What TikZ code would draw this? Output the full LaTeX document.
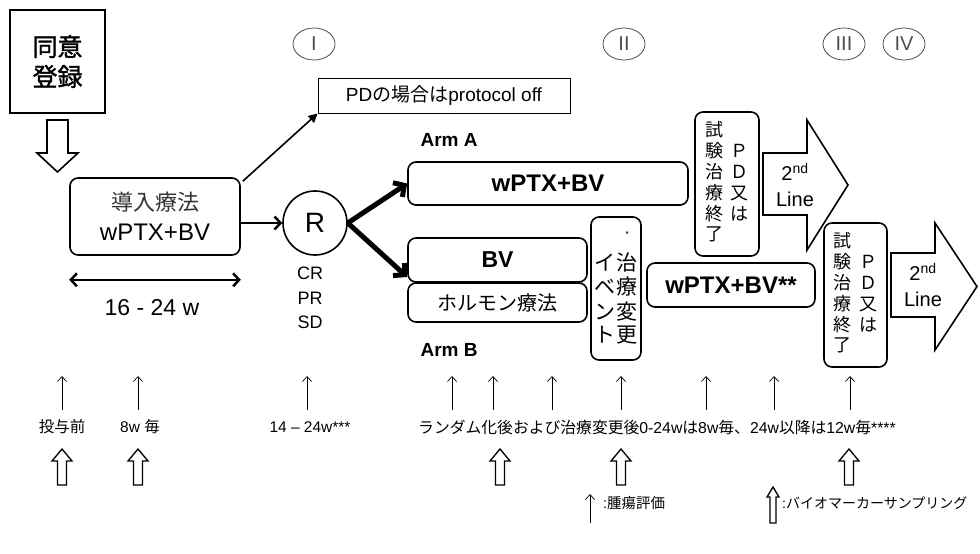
\documentclass[tikz,border=0pt]{standalone}
\usepackage{fontspec}
\setmainfont{Liberation Sans}
\newfontfamily\jp{Noto Sans CJK JP}
\newfontfamily\jpb[FakeBold=1.5]{Noto Sans CJK JP}
\usetikzlibrary{arrows.meta,shapes.geometric}

\begin{document}
\begin{tikzpicture}[x=1pt, y=-1pt,
  rbox/.style={draw, line width=1.6pt, rounded corners=8pt, inner sep=0pt},
  oval/.style={draw, black!70, line width=0.8pt, ellipse, minimum width=42pt, minimum height=32pt, inner sep=0pt, font=\fontsize{20}{20}\selectfont},
  eval/.style={-{Straight Barb[length=5pt,width=9pt]}, line width=0.7pt},
  lbl/.style={inner sep=0pt, font=\fontsize{15.5}{15.5}\selectfont},
  vtext/.style={inner sep=0pt, font=\jp\fontsize{18}{19.5}\selectfont}]
\useasboundingbox (0,0) rectangle (980,554);

% registration and induction
\node[draw, line width=2.8pt, minimum width=95pt, minimum height=103pt, align=center, font=\jpb\fontsize{25}{30}\selectfont] (entry) at (57.5,61.5) {同意\\登録};
\draw[line width=1.6pt] (47,120) -- (68,120) -- (68,153) -- (78,153) -- (57.5,172) -- (37,153) -- (47,153) -- cycle;
\node[rbox, minimum width=170pt, minimum height=77pt, align=center, font=\fontsize{24}{30}\selectfont] (induct) at (155,216.5) {{\jp\fontsize{22}{30}\selectfont\color{black!80}導入療法}\\wPTX+BV};
\node[draw, circle, line width=1.6pt, minimum size=64pt, inner sep=0pt, font=\fontsize{28}{28}\selectfont] (rand) at (315,223) {R};
\draw[line width=2.5pt, -{Straight Barb[length=6pt,width=13pt]}] (induct.east |- rand) -- (rand);
\draw[line width=2.5pt, {Straight Barb[length=6pt,width=13pt]}-{Straight Barb[length=6pt,width=13pt]}] ([yshift=-24pt]induct.south west) -- ([yshift=-24pt]induct.south east);
\node[font=\fontsize{23}{23}\selectfont] (span) at (152,308) {16 - 24 w};
\node[align=center, font=\fontsize{18}{24.5}\selectfont] (resp) at (310,298) {CR\\PR\\SD};
\node[draw, line width=0.9pt, minimum width=252pt, minimum height=35pt, font=\fontsize{19}{19}\selectfont] (pdoff) at (444,95.5) {PD{\jp の場合は}protocol off};
\draw[line width=1.6pt, -{Triangle[length=9pt,width=9pt]}] ([shift={(2pt,-4pt)}]induct.north east) -- (pdoff.south west);

% phases
\node[oval] (ph1) at (314,44) {I};
\node[oval] (ph2) at (624,44) {II};
\node[oval] (ph3) at (844,44) {III};
\node[oval] (ph4) at (904,44) {IV};

% arms
\node[anchor=west, font=\bfseries\fontsize{19}{19}\selectfont] (armA) at (417,140) {Arm A};
\node[anchor=west, font=\bfseries\fontsize{19}{19}\selectfont] (armB) at (417,350) {Arm B};
\node[rbox, minimum width=280pt, minimum height=43pt, font=\bfseries\fontsize{24}{24}\selectfont] (aplus) at (548,183.5) {wPTX+BV};
\node[rbox, minimum width=179pt, minimum height=44pt, font=\bfseries\fontsize{23}{23}\selectfont] (bv) at (497.5,260) {BV};
\node[rbox, minimum width=179pt, minimum height=39pt, font=\jp\fontsize{20}{20}\selectfont] (horm) at (497.5,302.5) {ホルモン療法};
\draw[line width=5pt, -{Straight Barb[length=8pt,width=17pt]}] (rand.east) -- (aplus.west);
\draw[line width=5pt, -{Straight Barb[length=8pt,width=17pt]}] (rand.east) -- ([yshift=-17pt]bv.west);

\node[rbox, minimum width=50pt, minimum height=143pt] (event) at (616,288.5) {};
\node[inner sep=0pt, font=\jp\fontsize{21}{23}\selectfont] (eventtxt) at ([yshift=3pt]event.center) {\begin{tabular}{@{}c@{\hspace{1pt}}c@{}}
 & {\rmfamily\fontsize{9}{9}\selectfont *}\\[8pt]
イ & 治\\ ベ & 療\\ ン & 変\\ ト & 更
\end{tabular}};
\node[rbox, minimum width=168pt, minimum height=44pt, font=\bfseries\fontsize{24}{24}\selectfont] (bplus) at (731,285) {wPTX+BV**};

% end of study and second line
\node[rbox, minimum width=64pt, minimum height=144pt] (stop1) at (727,184) {};
\node[vtext] (stop1txt) at (stop1.center) {\begin{tabular}{@{}c@{\hspace{7pt}}c@{}}
試 & \\ 験 & Ｐ\\ 治 & Ｄ\\ 療 & 又\\ 終 & は\\ 了 &
\end{tabular}};
\node[rbox, minimum width=63pt, minimum height=144pt] (stop2) at (855.5,295) {};
\node[vtext] (stop2txt) at (stop2.center) {\begin{tabular}{@{}c@{\hspace{8pt}}c@{}}
試 & \\ 験 & Ｐ\\ 治 & Ｄ\\ 療 & 又\\ 終 & は\\ 了 &
\end{tabular}};
\draw[line width=1.6pt] (763,153) -- (807,153) -- (807,120) -- (848,185) -- (807,250) -- (807,215) -- (763,215) -- cycle;
\node[align=center, font=\fontsize{20}{26}\selectfont] (line1) at (795,185) {2\textsuperscript{nd}\\Line};
\draw[line width=1.6pt] (891,253) -- (935,253) -- (935,223) -- (977,286.5) -- (935,350) -- (935,317) -- (891,317) -- cycle;
\node[align=center, font=\fontsize{20}{26}\selectfont] (line2) at (923,285) {2\textsuperscript{nd}\\Line};

% assessments
\foreach \x in {62,138,307,452,493,552,621,706,774,850}
  \draw[eval] (\x,410) -- (\x,376);
\node[lbl] (pre) at (62,427) {\jp 投与前};
\node[lbl] (every8) at (140,427) {8w {\jp 毎}};
\node[lbl] (wk) at (310,427) {14 – 24w***};
\node[lbl, font=\fontsize{15.8}{15.8}\selectfont] (after) at (657,427) {{\jp ランダム化後および治療変更後}0-24w{\jp は}8w{\jp 毎、}24w{\jp 以降は}12w{\jp 毎}****};
\foreach \x in {62,138,500,621,849}
  \draw[line width=1.3pt] (\x,449) -- ({\x+10},461) -- ({\x+4.5},461) -- ({\x+4.5},485) -- ({\x-4.5},485) -- ({\x-4.5},461) -- ({\x-10},461) -- cycle;

% legend
\draw[eval] (590,523) -- (590,494);
\node[lbl, anchor=west, font=\fontsize{14.5}{14.5}\selectfont] (leg1) at (603,503) {:{\jp 腫瘍評価}};
\draw[line width=1.3pt] (773,487) -- (779,497) -- (776,497) -- (776,523) -- (770,523) -- (770,497) -- (767,497) -- cycle;
\node[lbl, anchor=west, font=\fontsize{14}{14}\selectfont] (leg2) at (782,503) {:{\jp バイオマーカーサンプリング}};
\end{tikzpicture}
\end{document}
